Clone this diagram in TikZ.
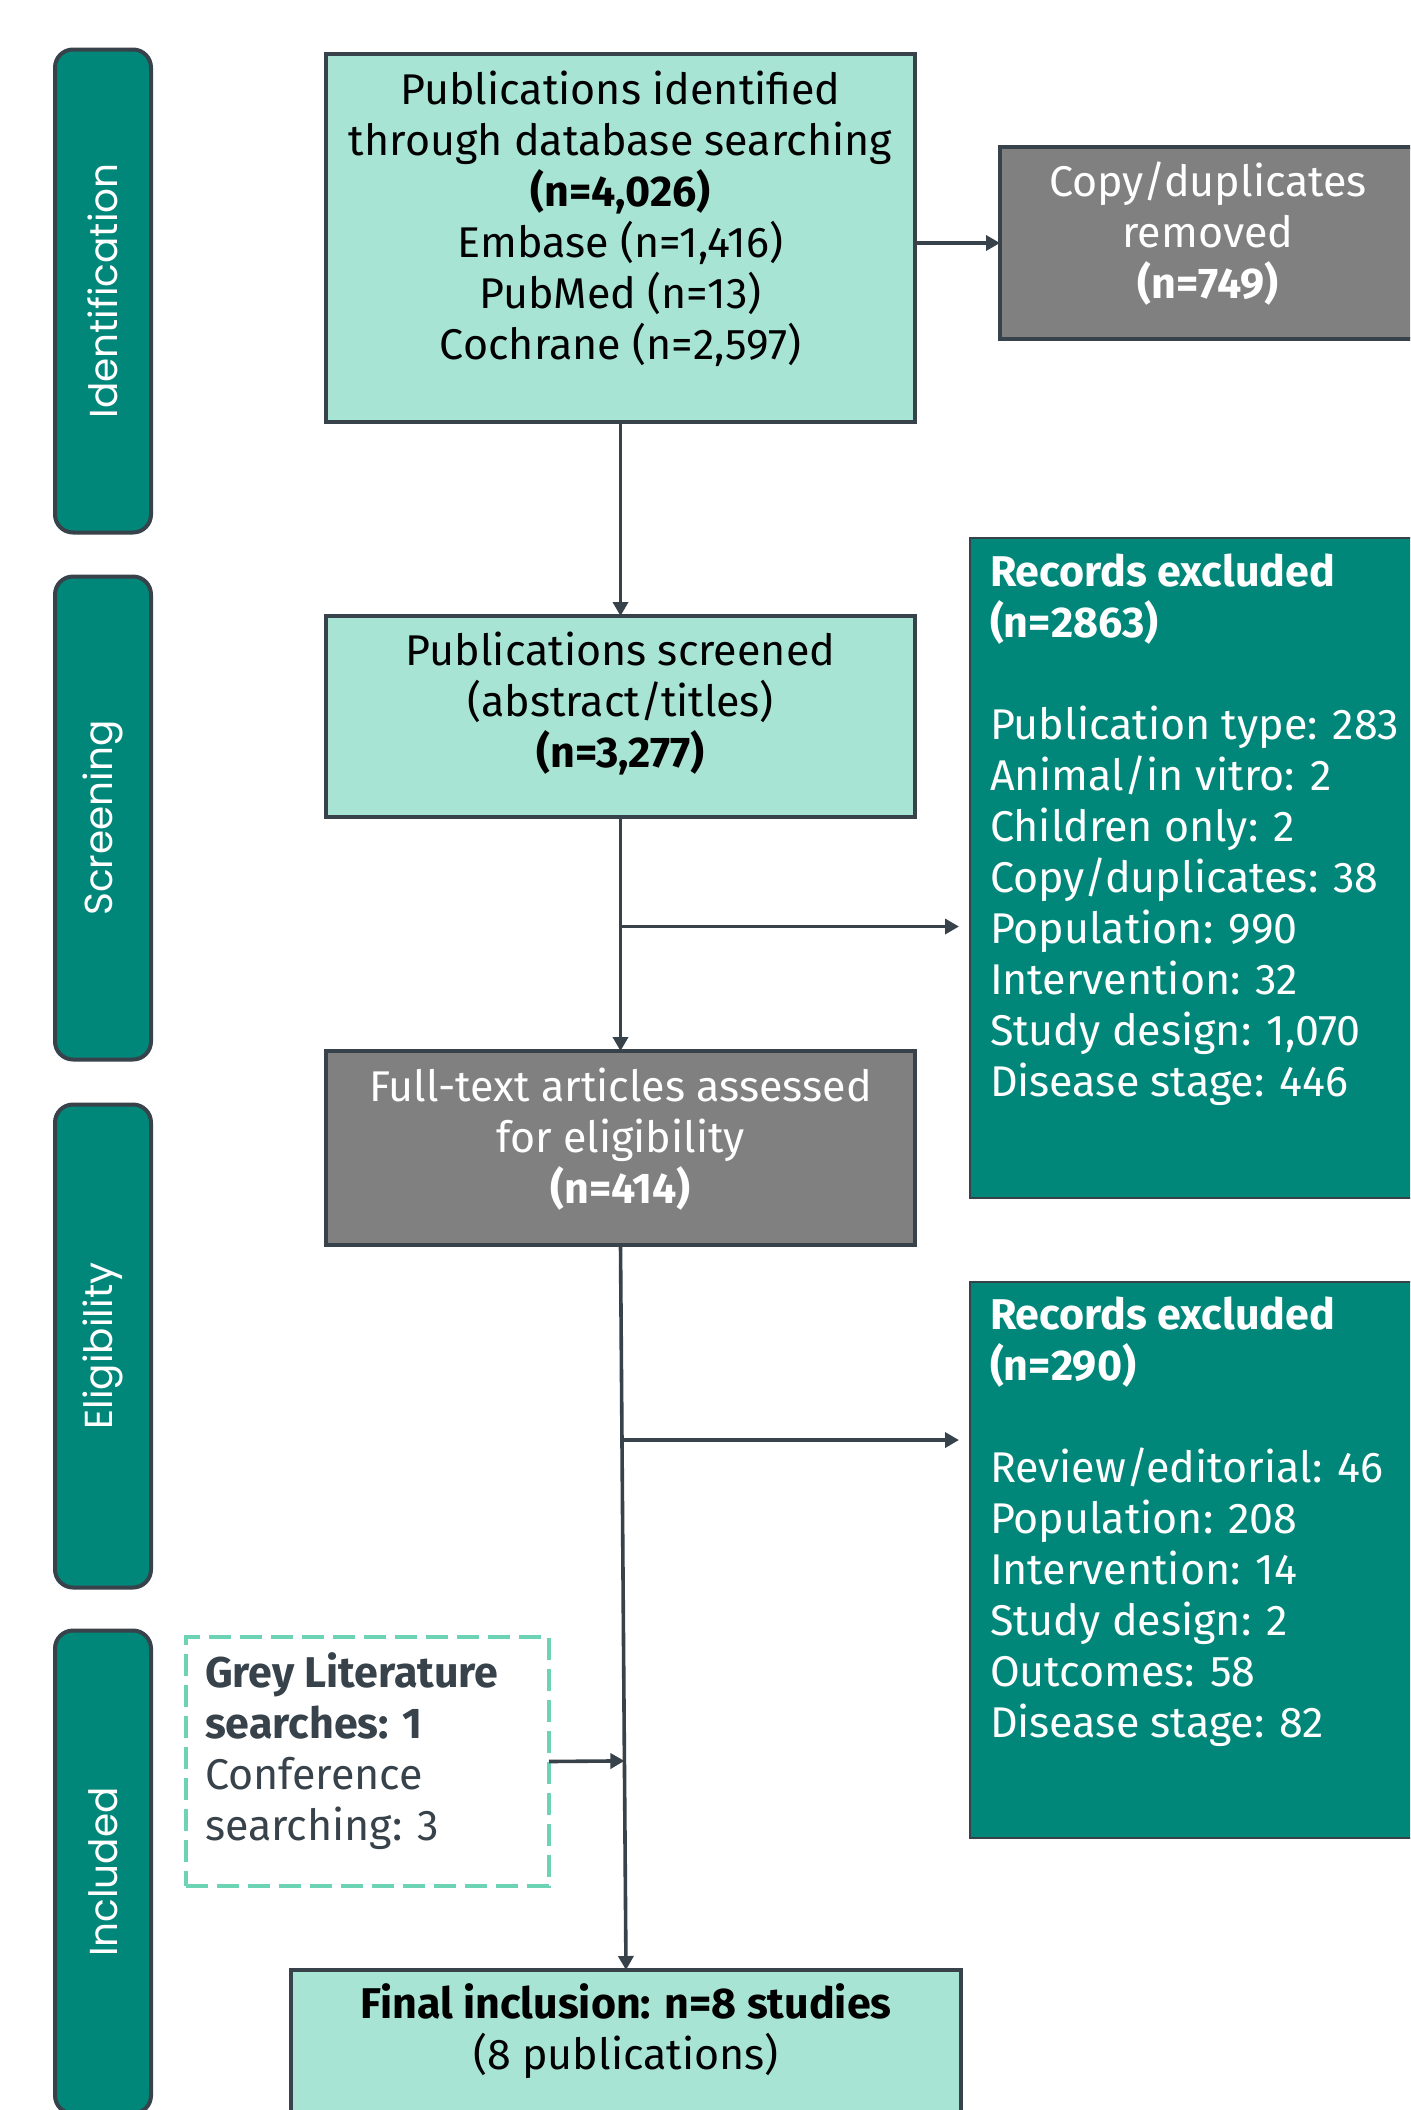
\documentclass[tikz,border=0pt]{standalone}
\usepackage{fontspec}
\setmainfont{Fira Sans}
\newfontfamily\tabfont{Poppins}
\usetikzlibrary{arrows.meta,calc}
\definecolor{mint}{HTML}{A8E4D4}
\definecolor{tealdk}{HTML}{00877A}
\definecolor{edgec}{HTML}{37424A}
\definecolor{greybox}{HTML}{808080}
\definecolor{dashmint}{HTML}{6CD4B4}
\begin{document}
\begin{tikzpicture}[x=0.5pt,y=-0.5pt,
  every node/.style={inner sep=0pt,outer sep=0pt},
  txt/.style={font=\fontsize{21.5}{25.5}\selectfont},
  tab/.style={draw=edgec,line width=2pt,fill=tealdk,rounded corners=9pt,minimum width=48pt,minimum height=241.5pt},
  tablabel/.style={rotate=90,text=white,font=\tabfont\fontsize{19.5}{23}\selectfont},
  mintbox/.style={draw=edgec,line width=2pt,fill=mint,minimum width=294.5pt},
  greyb/.style={draw=edgec,line width=2pt,fill=greybox},
  tealbox/.style={draw=edgec,line width=1pt,fill=tealdk},
  conn/.style={draw=edgec,line width=1.8pt},
  arr/.style={conn,-{Triangle[length=7pt,width=7.5pt]}}
]
\clip (0,0) rectangle (1410,2110);
\fill[white] (0,0) rectangle (1410,2110);

% side tabs
\node[tab] (tabI) at (103,291) {};
\node[tablabel] (labI) at (103,291) {Identification};
\node[tab] (tabS) at (103,818) {};
\node[tablabel] (labS) at (103,818) {Screening};
\node[tab] (tabE) at (103,1346) {};
\node[tablabel] (labE) at (103,1346) {Eligibility};
\node[tab] (tabN) at (103,1872) {};
\node[tablabel] (labN) at (103,1872) {Included};

% main boxes
\node[mintbox,minimum height=184pt] (box1) at (620.5,238) {};
\node[txt,align=center] (box1t) at (620.5,219) {Publications identified\\through database searching\\\textbf{(n=4,026)}\\Embase (n=1,416)\\PubMed (n=13)\\Cochrane (n=2,597)};

\node[greyb,minimum width=208pt,minimum height=96pt] (copyb) at (1208,243) {};
\node[txt,align=center,text=white] (copyt) at (1208,234) {Copy/duplicates\\removed\\\textbf{(n=749)}};

\node[mintbox,minimum height=100.5pt] (scr) at (620.5,716.5) {};
\node[txt,align=center] (scrt) at (620.5,704) {Publications screened\\(abstract/titles)\\\textbf{(n=3,277)}};

\node[greyb,minimum width=294.5pt,minimum height=97pt] (full) at (620.5,1148) {};
\node[txt,align=center,text=white] (fullt) at (620.5,1139) {Full-text articles assessed\\for eligibility\\\textbf{(n=414)}};

\node[mintbox,minimum width=335pt,minimum height=75pt] (fin) at (626,2045) {};
\node[txt,align=center] (fint) at (626,2031.5) {\textbf{Final inclusion: n=8 studies}\\(8 publications)};

% excluded boxes
\node[tealbox,minimum width=224pt,minimum height=330pt] (rec1) at (1194,868) {};
\node[txt,align=left,text=white,anchor=west] (rec1t) at (990,829.5) {\textbf{Records excluded}\\\textbf{(n=2863)}\\[25.5pt]Publication type: 283\\Animal/in vitro: 2\\Children only: 2\\Copy/duplicates: 38\\Population: 990\\Intervention: 32\\Study design: 1,070\\Disease stage: 446};

\node[tealbox,minimum width=224pt,minimum height=278pt] (rec2) at (1194,1560) {};
\node[txt,align=left,text=white,anchor=west] (rec2t) at (990,1521.5) {\textbf{Records excluded}\\\textbf{(n=290)}\\[25.5pt]Review/editorial: 46\\Population: 208\\Intervention: 14\\Study design: 2\\Outcomes: 58\\Disease stage: 82};

% grey literature
\node[draw=dashmint,line width=1.8pt,dash pattern=on 11pt off 4.5pt,minimum width=181.5pt,minimum height=124.5pt] (grey) at (367.5,1761.5) {};
\node[txt,align=left,text=edgec,anchor=west] (greyt) at (205,1751.5) {\textbf{Grey Literature}\\\textbf{searches: 1}\\Conference\\searching: 3};

% connectors
\draw[arr] (copyb.west -| box1.east) -- (copyb.west);
\draw[arr] (box1.south) -- (scr.north);
\draw[arr] (scr.south) -- (full.north);
\coordinate (br1) at ($(scr.south)!0.468!(full.north)$);
\draw[arr,shorten >=5.5pt] (br1) -- (br1 -| rec1.west);
\draw[arr] (full.south) -- (fin.north);
\coordinate (br2) at ($(full.south)!0.269!(fin.north)$);
\draw[arr,shorten >=5.5pt] (br2) -- (br2 -| rec2.west);
\coordinate (gj) at ($(full.south)!(grey.east)!(fin.north)$);
\draw[arr] (grey.east) -- (gj);
\end{tikzpicture}
\end{document}
